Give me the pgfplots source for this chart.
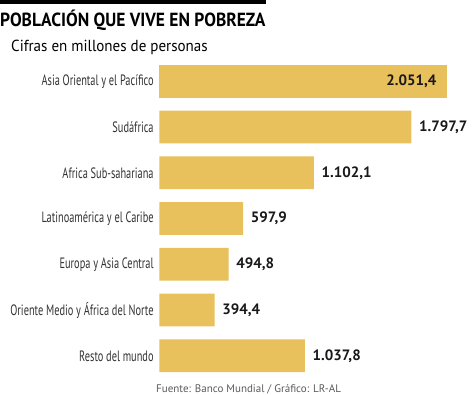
\documentclass[border=0pt]{standalone}
\usepackage{pgfplots}
\pgfplotsset{compat=1.18}
\usepackage{fontspec}
\setmainfont{PT Sans}
\newfontfamily\titlefont[FakeStretch=0.92]{PT Sans Bold}
\newfontfamily\subfam[FakeStretch=0.94]{PT Sans}
\newfontfamily\catfam[FakeStretch=0.69]{PT Sans}
\newfontfamily\valfam{PT Sans Bold}
\definecolor{barcol}{RGB}{232,192,92}
\definecolor{labgray}{RGB}{50,50,50}
\definecolor{srcgray}{RGB}{90,90,90}
\begin{document}
\begin{tikzpicture}
\path (0,0) rectangle (474bp,-395bp);
\fill[black] (0,0) rectangle (266bp,-3.5bp);
\node[anchor=base west, inner sep=0pt] at (0bp,-26.7bp) {\titlefont\fontsize{19bp}{22bp}\selectfont POBLACIÓN QUE VIVE EN POBREZA};
\node[anchor=base west, inner sep=0pt] at (11bp,-51.7bp) {\subfam\fontsize{16bp}{19bp}\selectfont Cifras en millones de personas};
\node[anchor=base west, inner sep=0pt, text=srcgray] at (156bp,-392.7bp) {\fontsize{11bp}{13bp}\selectfont Fuente: Banco Mundial / Gráfico: LR-AL};
\begin{axis}[
  at={(159.3bp,-58.4bp)}, anchor=north west,
  x=0.14026bp, y=45.75bp, y dir=reverse,
  xmin=0, xmax=2200, ymin=-0.5, ymax=6.5,
  xbar, bar width=32.7bp, bar shift=0pt,
  axis line style={draw=none}, major tick length=0pt,
  xtick=\empty,
  ytick={0,1,2,3,4,5,6},
  yticklabels={Asia Oriental y el Pacífico, Sudáfrica, Africa Sub-sahariana, Latinoamérica y el Caribe, Europa y Asia Central, Oriente Medio y África del Norte, Resto del mundo},
  yticklabel style={font=\catfam\fontsize{15bp}{17bp}\selectfont, text=labgray, anchor=east, inner sep=0pt, xshift=-5.5bp},
  clip=false,
  /pgf/number format/.cd, use comma, 1000 sep={.}, fixed, fixed zerofill, precision=1, assume math mode=true,
  /pgfplots/.cd,
  nodes near coords,
  nodes near coords style={font=\valfam\fontsize{15bp}{17bp}\selectfont, text=black!90, inner sep=0pt},
]
\addplot[fill=barcol, draw=none, every node near coord/.append style={anchor=east, xshift=-10.5bp}] coordinates {(2051.4,0)};
\addplot[fill=barcol, draw=none, every node near coord/.append style={anchor=west, xshift=7.5bp}] coordinates {(1797.7,1) (1102.1,2) (597.9,3) (494.8,4) (394.4,5) (1037.8,6)};
\end{axis}
\end{tikzpicture}
\end{document}
